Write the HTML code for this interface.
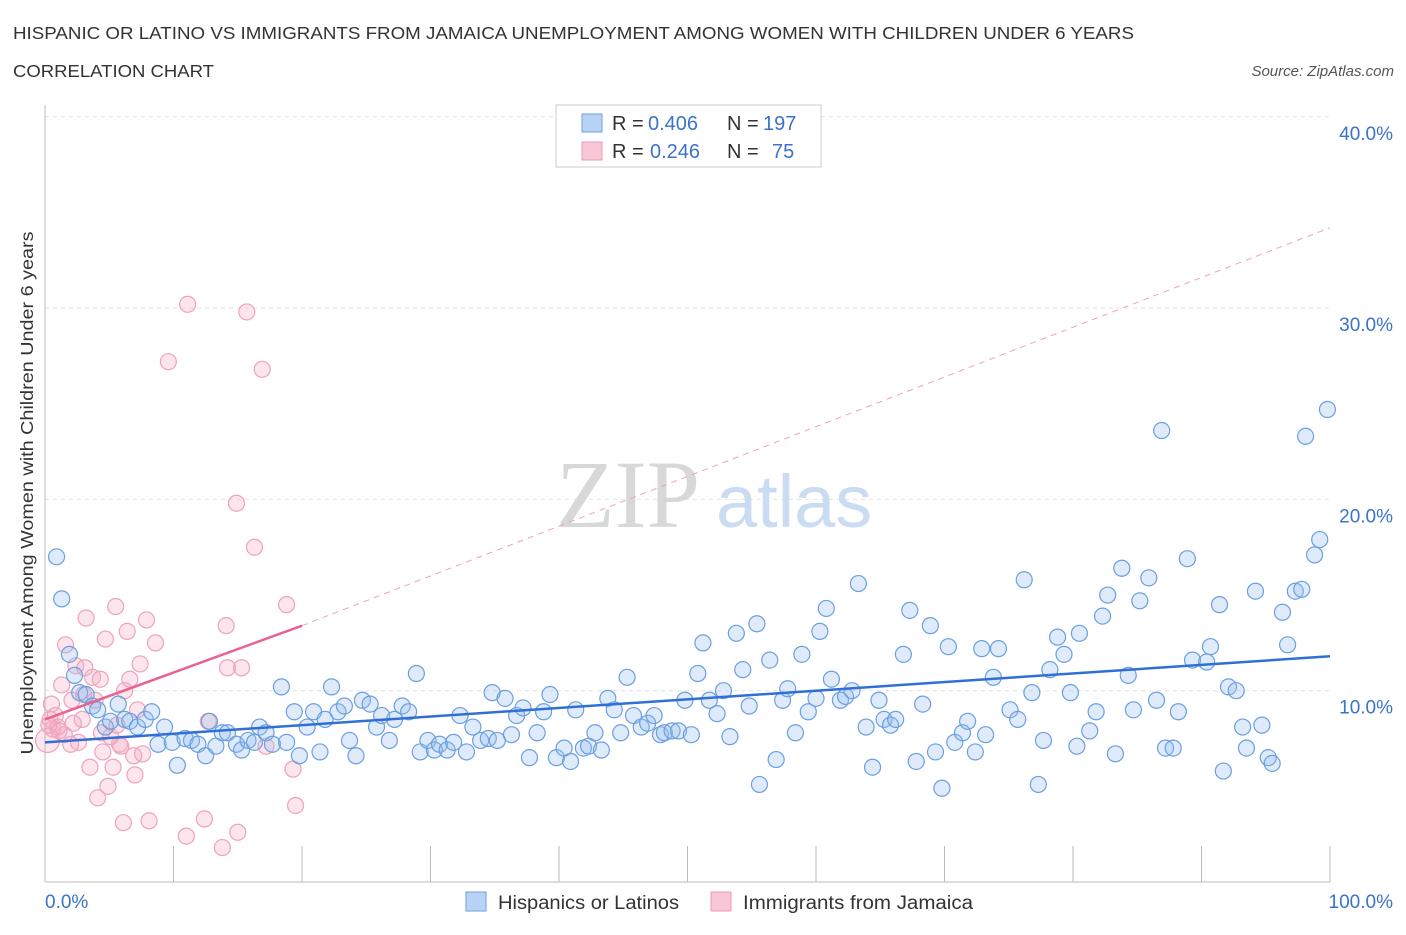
<!DOCTYPE html>
<html><head><meta charset="utf-8">
<style>
body{margin:0;background:#fff;font-family:"Liberation Sans",sans-serif;}
svg text{font-family:"Liberation Sans",sans-serif;}
</style></head>
<body>
<svg id="chart" width="1406" height="930" viewBox="0 0 1406 930" xmlns="http://www.w3.org/2000/svg">
<text x="13" y="39" font-size="17.5" fill="#333" textLength="1121" lengthAdjust="spacingAndGlyphs">HISPANIC OR LATINO VS IMMIGRANTS FROM JAMAICA UNEMPLOYMENT AMONG WOMEN WITH CHILDREN UNDER 6 YEARS</text>
<text x="13" y="77" font-size="17.5" fill="#333" textLength="201" lengthAdjust="spacingAndGlyphs">CORRELATION CHART</text>
<text x="1394" y="76" font-size="15" fill="#555" font-style="italic" text-anchor="end">Source: ZipAtlas.com</text>
<g id="grid"></g>
<text x="700" y="527" font-size="96" fill="#d8d8d8" text-anchor="end" style="font-family:'Liberation Serif',serif">ZIP</text>
<text x="716" y="527" font-size="74" fill="#c9dcf2">atlas</text>
<g id="pts"></g>
<g id="lines"></g>
<text x="33" y="493" font-size="17.5" fill="#333" text-anchor="middle" textLength="523" lengthAdjust="spacingAndGlyphs" transform="rotate(-90 33 493)">Unemployment Among Women with Children Under 6 years</text>
<g>
<rect x="556" y="105" width="265" height="62" fill="#fff" stroke="#ccc"/>
<rect x="582" y="114" width="20" height="18" fill="#b8d3f5" stroke="#6a9fe0"/>
<rect x="582" y="142" width="20" height="18" fill="#f9c6d6" stroke="#ec9bb5"/>
<text x="612" y="130" font-size="20" fill="#333">R =</text>
<text x="648" y="130" font-size="20" fill="#3b73c8">0.406</text>
<text x="727" y="130" font-size="20" fill="#333">N =</text>
<text x="763" y="130" font-size="20" fill="#3b73c8">197</text>
<text x="612" y="158" font-size="20" fill="#333">R =</text>
<text x="650" y="158" font-size="20" fill="#3b73c8">0.246</text>
<text x="727" y="158" font-size="20" fill="#333">N =</text>
<text x="772" y="158" font-size="20" fill="#3b73c8">75</text>
</g>
<g>
<rect x="466" y="892" width="20" height="19" fill="#b8d3f5" stroke="#6a9fe0"/>
<text x="498" y="909" font-size="19" fill="#333" textLength="181" lengthAdjust="spacingAndGlyphs">Hispanics or Latinos</text>
<rect x="711" y="892" width="20" height="19" fill="#f9c6d6" stroke="#ec9bb5"/>
<text x="743" y="909" font-size="19" fill="#333" textLength="230" lengthAdjust="spacingAndGlyphs">Immigrants from Jamaica</text>
</g>
</svg>
<script>
const blueX=[0.9,1.3,1.9,2.3,2.7,3.2,3.7,4.1,4.7,5.1,5.7,6.2,6.6,7.2,7.8,8.3,8.8,9.3,9.9,10.3,10.9,11.4,11.9,12.5,12.8,13.3,13.8,14.2,14.9,15.3,15.8,16.3,16.7,17.2,17.7,18.4,18.8,19.4,19.8,20.4,20.9,21.4,21.8,22.3,22.8,23.3,23.7,24.2,24.7,25.3,25.8,26.2,26.8,27.2,27.8,28.3,28.9,29.2,29.8,30.3,30.7,31.3,31.8,32.3,32.8,33.3,33.9,34.5,34.8,35.2,35.8,36.3,36.7,37.2,37.7,38.3,38.8,39.3,39.8,40.4,40.9,41.3,41.9,42.3,42.8,43.3,43.8,44.3,44.8,45.3,45.8,46.4,46.9,47.4,47.9,48.2,48.8,49.3,49.8,50.3,50.8,51.2,51.7,52.3,52.8,53.3,53.8,54.3,54.8,55.4,55.6,56.4,56.9,57.4,57.8,58.4,58.9,59.4,60.0,60.3,60.8,61.2,61.9,62.3,62.8,63.3,63.9,64.4,64.9,65.3,65.8,66.2,66.8,67.3,67.8,68.3,68.9,69.3,69.8,70.3,70.8,71.4,71.8,72.4,72.9,73.2,73.8,74.2,75.1,75.7,76.2,76.8,77.3,77.7,78.2,78.8,79.3,79.8,80.3,80.5,81.3,81.8,82.3,82.7,83.3,83.8,84.3,84.7,85.2,85.9,86.5,86.9,87.2,87.8,88.2,88.9,89.3,90.4,90.7,91.4,91.7,92.1,92.7,93.2,93.5,94.2,94.7,95.2,95.5,96.3,96.7,97.3,97.8,98.1,98.8,99.2,99.8];
const blueY=[17.0,14.8,11.9,10.8,9.9,9.8,9.2,9.0,8.1,8.4,9.3,8.5,8.4,8.1,8.5,8.9,7.2,8.1,7.3,6.1,7.5,7.4,7.2,6.6,8.4,7.1,7.8,7.8,7.2,6.9,7.4,7.3,8.1,7.8,7.2,10.2,7.3,8.9,6.6,8.1,8.9,6.8,8.5,10.2,8.9,9.2,7.4,6.6,9.5,9.3,8.1,8.7,7.4,8.5,9.2,8.9,10.9,6.8,7.4,6.9,7.2,6.9,7.3,8.7,6.8,8.1,7.4,7.5,9.9,7.4,9.6,7.7,8.7,9.1,6.5,7.8,8.9,9.8,6.5,7.0,6.3,9.0,7.0,7.1,7.8,6.9,9.6,9.0,7.8,10.7,8.7,8.1,8.3,8.7,7.7,7.8,7.9,7.9,9.5,7.7,10.9,12.5,9.5,8.8,10.0,7.6,13.0,11.1,9.2,13.5,5.1,11.6,6.4,9.5,10.1,7.8,11.9,8.9,9.6,13.1,14.3,10.6,9.5,9.7,10.0,15.6,8.1,6.0,9.5,8.5,8.2,8.5,11.9,14.2,6.3,9.3,13.4,6.8,4.9,12.3,7.3,7.8,8.4,6.8,12.2,7.7,10.7,12.2,9.0,8.5,15.8,9.9,5.1,7.4,11.1,12.8,11.9,9.9,7.1,13.0,7.9,8.9,13.9,15.0,6.7,16.4,10.8,9.0,14.7,15.9,9.5,23.6,7.0,7.0,8.9,16.9,11.6,11.5,12.3,14.5,5.8,10.2,10.0,8.1,7.0,15.2,8.2,6.5,6.2,14.1,12.4,15.2,15.3,23.3,17.1,17.9,24.7];
const pinkX=[0.2,0.4,0.5,0.8,1.0,1.3,1.5,1.6,2.0,2.1,2.4,2.6,2.9,3.1,3.2,3.5,3.7,3.9,4.1,4.3,4.5,4.7,4.9,5.1,5.3,5.5,5.6,5.8,6.1,6.2,6.4,6.6,6.9,7.0,7.2,7.4,7.6,7.9,8.1,8.6,9.6,11.0,11.1,12.4,12.7,13.8,14.1,14.2,14.9,15.0,15.3,15.7,16.3,16.9,17.2,18.8,19.3,19.5,0.6,1.1,2.2,3.0,4.4,5.9,0.3];
const pinkY=[7.4,8.5,9.3,8.7,8.1,10.3,7.7,12.4,7.2,9.5,11.3,7.3,8.5,11.2,13.8,6.0,10.7,9.5,4.4,10.6,6.8,12.7,5.0,7.6,6.0,14.4,8.2,7.2,3.1,10.0,13.1,10.6,6.6,5.6,9.0,11.4,6.7,13.7,3.2,12.5,27.2,2.4,30.2,3.3,8.4,1.8,13.4,11.2,19.8,2.6,11.2,29.8,17.5,26.8,7.1,14.5,5.9,4.0,8.0,7.9,8.3,9.8,7.8,7.1,8.2];
const yTicks=[10,20,30,40];
const xTickLabels=["0.0%","100.0%"];
const blueTrend=[7.3,11.8];
const pinkTrend=[8.5,13.4];
const pinkDashEnd=34.2;

const X0=45,X1=1330,YB=882,PXY=19.13;
const sx=v=>X0+(X1-X0)*v/100;
const sy=v=>YB-v*PXY;
const NS="http://www.w3.org/2000/svg";
function mk(tag,attrs,parent){const e=document.createElementNS(NS,tag);for(const k in attrs)e.setAttribute(k,attrs[k]);parent.appendChild(e);return e;}
const grid=document.getElementById('grid'),svg=document.getElementById('chart');
yTicks.forEach(t=>{
  const l=mk('line',{x1:X0,x2:1330,y1:sy(t),y2:sy(t),stroke:'#e2e2e2','stroke-dasharray':'4,4'},grid);
  
  
  const tx=mk('text',{x:1393,y:sy(t)+23,'font-size':19,fill:'#3b73c8','text-anchor':'end'},svg);
  tx.textContent=t.toFixed(1)+'%';
  
  
});
const ax=mk('line',{x1:X0,x2:X0,y1:105,y2:YB,stroke:'#bbb'},grid);


const bx=mk('line',{x1:X0,x2:1330,y1:YB,y2:YB,stroke:'#bbb'},grid);


for(let i=0;i<=10;i++){
  const t=mk('line',{x1:sx(i*10),x2:sx(i*10),y1:846,y2:YB,stroke:'#bbb'},grid);
  
  
}
[[0,'start',45],[100,'end',1393]].forEach((d,i)=>{
  const tx=mk('text',{x:d[2],y:908,'font-size':19,fill:'#3b73c8','text-anchor':d[1]},svg);
  tx.textContent=xTickLabels[i];
  
  
});
const pts=document.getElementById('pts');
pinkX.forEach((x,i)=>{
  const c=mk('circle',{cx:sx(x),cy:sy(pinkY[i]),r:i===0?12:8,fill:'rgba(244,170,195,0.3)',stroke:'#eea2bb','stroke-width':1.2},pts);
  
  
});
blueX.forEach((x,i)=>{
  const c=mk('circle',{cx:sx(x),cy:sy(blueY[i]),r:8,fill:'rgba(150,190,240,0.3)',stroke:'#6a9fe0','stroke-width':1.2},pts);
  
  
});
const lines=document.getElementById('lines');
const pd=mk('line',{x1:sx(20),y1:sy(pinkTrend[1]),x2:sx(100),y2:sy(pinkDashEnd),stroke:'#eea2bb','stroke-dasharray':'6,5','stroke-width':1},lines);


const bl=mk('line',{x1:sx(0),y1:sy(blueTrend[0]),x2:sx(100),y2:sy(blueTrend[1]),stroke:'#2f6fd6','stroke-width':2.5},lines);


const pl=mk('line',{x1:sx(0),y1:sy(pinkTrend[0]),x2:sx(20),y2:sy(pinkTrend[1]),stroke:'#e8648f','stroke-width':2.5},lines);


</script>
</body></html>
